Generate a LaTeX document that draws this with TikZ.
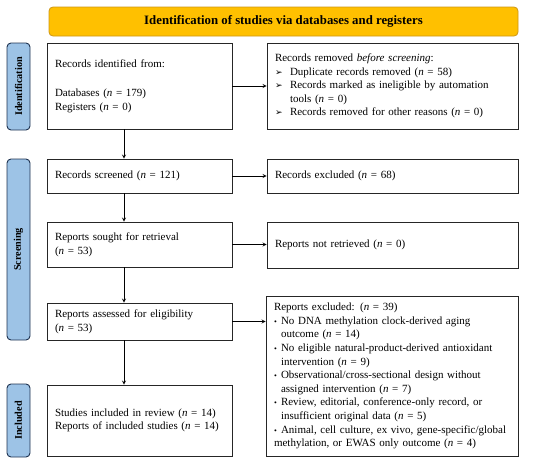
\documentclass[tikz,border=0pt]{standalone}
\usepackage{fontspec}
\setmainfont{Liberation Serif}
\newfontfamily\symfont{DejaVu Sans}
\usetikzlibrary{positioning,arrows,calc}
\hyphenpenalty=10000
\exhyphenpenalty=10000

\definecolor{bannerfill}{RGB}{255,192,0}
\definecolor{bannerline}{RGB}{205,150,20}
\definecolor{phasefill}{RGB}{157,195,230}
\definecolor{phaseline}{RGB}{30,50,80}

\newcommand{\nn}{\textit{n}}
\newcommand{\arritem}[1]{\par\hangindent=15pt\hangafter=1\noindent\makebox[15pt][l]{\symfont\small ➢}#1}
\newcommand{\dotitem}[1]{\par\hangindent=7pt\hangafter=1\noindent\makebox[7pt][l]{\footnotesize\textbullet}#1}

\tikzset{
  box/.style={draw=black!85, line width=0.8pt, fill=white, inner xsep=8pt, inner ysep=3pt,
    align=left, font=\fontsize{11}{13.6}\selectfont},
  phase/.style={draw=phaseline, line width=0.9pt, fill=phasefill, rounded corners=4pt,
    rotate=90, minimum height=23pt, inner sep=1pt, font=\fontsize{10.2}{12}\selectfont\bfseries},
  banner/.style={draw=bannerline, line width=0.8pt, fill=bannerfill, rounded corners=4pt,
    minimum width=469pt, minimum height=29pt, font=\fontsize{12.8}{14}\selectfont\bfseries},
  arr/.style={->, >=stealth, line width=0.8pt}
}

\begin{document}
\begin{tikzpicture}[x=1pt,y=-1pt]
\useasboundingbox (0,0) rectangle (550,463);

% header and phases
\node[banner] (title) at (283.5,21.5) {Identification of studies via databases and registers};
\node[phase, minimum width=87pt] (idlab) at (18.5,86.5) {Identification};
\node[phase, minimum width=181pt] (scrlab) at (18.5,249.5) {Screening};
\node[phase, minimum width=73pt] (inclab) at (18.5,420.5) {Included};

% left column
\node[box, minimum width=185pt, minimum height=86pt, text width=169pt] (ident) at (139.5,86)
  {Records identified from:\\[16pt]Databases (\nn{} = 179)\\Registers (\nn{} = 0)};
\node[box, minimum width=185pt, minimum height=34pt, text width=169pt] (screened) at (139.5,176)
  {Records screened (\nn{} = 121)};
\node[box, minimum width=185pt, minimum height=45pt, text width=169pt] (sought) at (139.5,244.5)
  {Reports sought for retrieval\\(\nn{} = 53)};
\node[box, minimum width=185pt, minimum height=37pt, text width=169pt] (assessed) at (139.5,321.5)
  {Reports assessed for eligibility\\(\nn{} = 53)};
\node[box, minimum width=185pt, minimum height=71pt, text width=169pt] (included) at (139.5,420.5)
  {Studies included in review (\nn{} = 14)\\Reports of included studies (\nn{} = 14)};

% right column
\node[box, minimum width=251pt, minimum height=86pt, text width=235pt] (removed) at (392.5,86)
  {Records removed \textit{before screening}:
   \arritem{Duplicate records removed (\nn{} = 58)}
   \arritem{Records marked as ineligible by automation\newline tools (\nn{} = 0)}
   \arritem{Records removed for other reasons (\nn{} = 0)}};
\node[box, minimum width=251pt, minimum height=34pt, text width=235pt] (excluded) at (392.5,176)
  {Records excluded (\nn{} = 68)};
\node[box, minimum width=251pt, minimum height=46pt, text width=235pt] (notretr) at (392.5,245)
  {Reports not retrieved (\nn{} = 0)};
\node[box, minimum width=252pt, minimum height=160pt, text width=236pt] (exclrep) at (392,376)
  {Reports excluded: (\nn{} = 39)
   \dotitem{No DNA methylation clock-derived aging\newline outcome (\nn{} = 14)}
   \dotitem{No eligible natural-product-derived antioxidant\newline intervention (\nn{} = 9)}
   \dotitem{Observational/cross-sectional design without\newline assigned intervention (\nn{} = 7)}
   \dotitem{Review, editorial, conference-only record, or\newline insufficient original data (\nn{} = 5)}
   \dotitem{Animal, cell culture, ex vivo, gene-specific/global\newline methylation, or EWAS only outcome (\nn{} = 4)}};

% arrows
\coordinate (stem) at (124,0);
\draw[arr] (ident.south -| stem) -- (screened.north -| stem);
\draw[arr] (screened.south -| stem) -- (sought.north -| stem);
\draw[arr] (sought.south -| stem) -- (assessed.north -| stem);
\draw[arr] (assessed.south -| stem) -- (included.north -| stem);
\draw[arr] (ident.east) -- (ident.east -| removed.west);
\draw[arr] (screened.east) -- (screened.east -| excluded.west);
\draw[arr] (sought.east) -- (sought.east -| notretr.west);
\draw[arr] (assessed.east) -- (assessed.east -| exclrep.west);
\end{tikzpicture}
\end{document}
